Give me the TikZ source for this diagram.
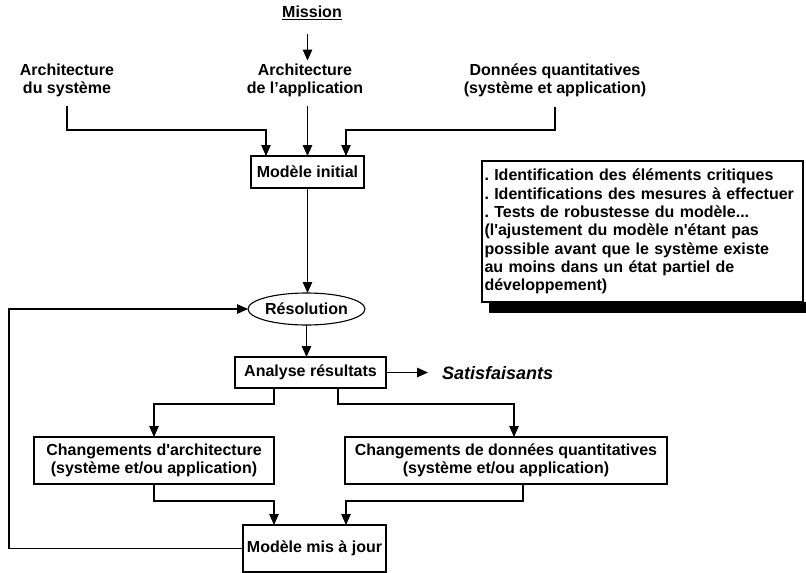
\documentclass[tikz,border=0pt]{standalone}
\usepackage{fontspec}
\setmainfont{Liberation Sans}
\usetikzlibrary{arrows.meta,shapes.geometric}
\begin{document}
\begin{tikzpicture}[x=1pt,y=-1pt,
  every node/.style={font=\fontsize{16}{18}\selectfont\bfseries, inner sep=0pt, outer sep=0pt},
  box/.style={draw, line width=1.1pt, align=center},
  lbl/.style={align=center},
  arr/.style={line width=1.1pt, -{Triangle[length=11pt,width=9.5pt]}},
  ln/.style={line width=1.1pt}]
\useasboundingbox (0,0) rectangle (806,573);
% nodes
\node (mission) at (312,13) {\underline{Mission}};
\node[lbl] (archsys) at (67,80) {Architecture\\du système};
\node[lbl] (archapp) at (305,80) {Architecture\\de l’application};
\node[lbl] (donnees) at (555,80) {Données quantitatives\\(système et application)};
\node[box, minimum width=113pt, minimum height=32pt] (modinit) at (307.5,172) {Modèle initial};
\node[draw, ellipse, line width=1.1pt, minimum width=95pt, minimum height=32pt] (resol) at (306.5,309) {Résolution};
\node[box, minimum width=151pt, minimum height=31pt] (analyse) at (310.5,372.5) {Analyse résultats};
\node[anchor=west, font=\fontsize{18}{20}\selectfont\bfseries\itshape, inner xsep=14pt] (satis) at (428,373.5) {Satisfaisants};
\node[box, minimum width=240pt, minimum height=47pt] (chgarch) at (154,460.5) {Changements d\textquotesingle architecture\\(système et/ou application)};
\node[box, minimum width=322pt, minimum height=47pt] (chgdon) at (506,460.5) {Changements de données quantitatives\\(système et/ou application)};
\node[box, minimum width=143pt, minimum height=47pt] (modmaj) at (314.5,548.5) {Modèle mis à jour};
\node[draw, line width=1.1pt, minimum width=321pt, minimum height=141pt, text width=316pt, align=left,
      font=\fontsize{16}{18.3}\selectfont\bfseries] (note) at (642.5,231.5)
  {.\ Identification des éléments critiques\\
   .\ Identifications des mesures à effectuer\\
   .\ Tests de robustesse du modèle...\\
   (l\textquotesingle ajustement du modèle n\textquotesingle étant pas\\
   possible avant que le système existe\\
   au moins dans un état partiel de\\
   développement)};
\fill ([xshift=7pt]note.south west) rectangle ([xshift=6pt,yshift=-11pt]note.south east);
% junction coordinates
\coordinate (jl) at (266,130);
\coordinate (jr) at (346,130);
\coordinate (fb) at (9,400);
\coordinate (al) at (274,404);
\coordinate (ar) at (338,404);
\coordinate (bl) at (274,501);
\coordinate (br) at (346,501);
% connectors
\draw[arr] ([yshift=-14pt]mission.south -| modinit.north) -- ([yshift=3pt]archapp.north -| modinit.north);
\draw[arr] ([yshift=-10pt]archsys.south) |- (jl) -- (jl |- modinit.north);
\draw[arr] ([yshift=-10pt]archapp.south -| modinit.north) -- (modinit.north);
\draw[arr] ([yshift=-10pt]donnees.south) |- (jr) -- (jr |- modinit.north);
\draw[arr] (modinit.south) -- (modinit.south |- resol.north);
\draw[arr] (resol.south) -- (resol.south |- analyse.north);
\draw[arr] (analyse.east) -- (analyse.east -| satis.west);
\draw[arr] (al |- analyse.south) -- (al) -| (chgarch.north);
\draw[arr] (ar |- analyse.south) -- (ar) -| ([xshift=8pt]chgdon.north);
\draw[arr] (chgarch.south) |- (bl) -- (bl |- modmaj.north);
\draw[arr] ([xshift=17pt]chgdon.south) |- (br) -- (br |- modmaj.north);
\draw[arr] (modmaj.west) -| (fb) |- (resol.west);
\end{tikzpicture}
\end{document}
